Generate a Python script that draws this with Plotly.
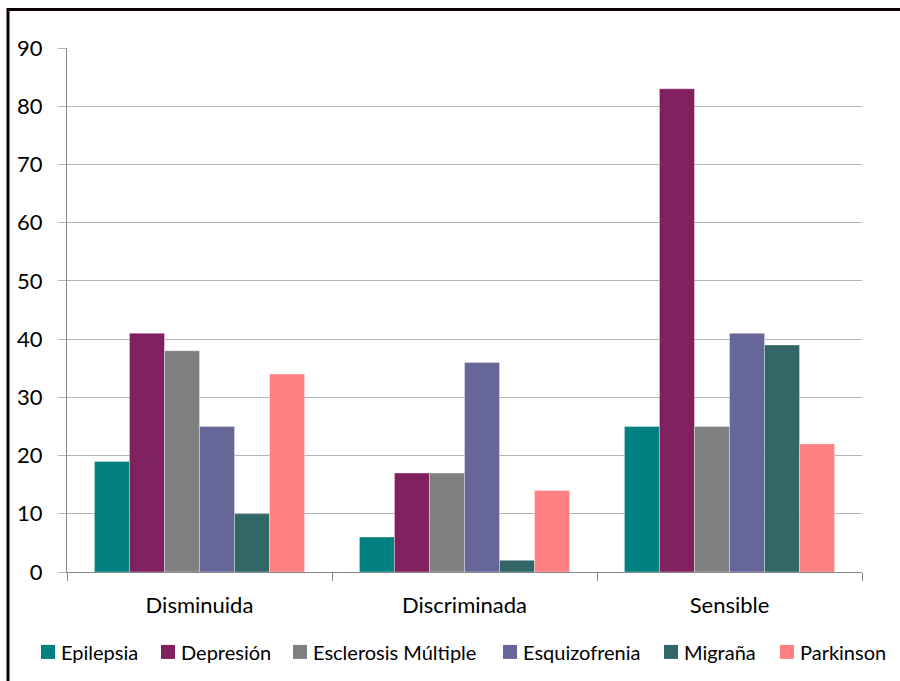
import plotly.graph_objects as go

categories = ["Disminuida", "Discriminada", "Sensible"]
series_names = ["Epilepsia", "Depresión", "Esclerosis Múltiple", "Esquizofrenia", "Migraña", "Parkinson"]
epilepsia = [19, 6, 25]
depresion = [41, 17, 83]
esclerosis = [38, 17, 25]
esquizofrenia = [25, 36, 41]
migrana = [10, 2, 39]
parkinson = [34, 14, 22]
y_ticks = [0, 10, 20, 30, 40, 50, 60, 70, 80, 90]

series_values = [epilepsia, depresion, esclerosis, esquizofrenia, migrana, parkinson]
colors = ["#008080", "#80205F", "#808080", "#666699", "#336666", "#FF8080"]

FONT = "Lato, 'Open Sans', sans-serif"

fig = go.Figure()
for name, vals, col in zip(series_names, series_values, colors):
    fig.add_trace(go.Bar(
        x=categories, y=vals, name=name,
        marker=dict(color=col, line=dict(color="rgba(255,255,255,0.35)", width=1)),
    ))

# plot area in pixels: x 67..862, y 47.5..572
L, R, T, B = 67, 862, 47.5, 572
W, H = 900, 681
pw, ph = R - L, B - T

def px_x(p):
    return (p - L) / pw

def px_y(p):
    return (B - p) / ph

# legend row below the chart: left edge of each colour key, in pixels
legend_key_left = [41, 161, 293, 503, 664, 780]
legend_y = 652
key_size = 14

shapes = [dict(
    type="rect", xref="paper", yref="paper",
    x0=px_x(8), x1=px_x(920), y0=px_y(720), y1=px_y(9),
    line=dict(color="#0a0005", width=3), fillcolor="rgba(0,0,0,0)", layer="above",
)]
annotations = []
for name, col, kx in zip(series_names, colors, legend_key_left):
    shapes.append(dict(
        type="rect", xref="paper", yref="paper",
        x0=px_x(kx), x1=px_x(kx + key_size),
        y0=px_y(legend_y + key_size / 2), y1=px_y(legend_y - key_size / 2),
        line=dict(width=0), fillcolor=col,
    ))
    annotations.append(dict(
        text=name, xref="paper", yref="paper",
        x=px_x(kx + key_size + 4), y=px_y(legend_y),
        xanchor="left", yanchor="middle", showarrow=False,
        font=dict(family=FONT, size=20, color="#000000"),
    ))

fig.update_layout(
    width=W, height=H,
    margin=dict(l=L, r=W - R, t=T, b=H - B),
    paper_bgcolor="white", plot_bgcolor="white",
    barmode="group", bargap=0.207, bargroupgap=0,
    font=dict(family=FONT, size=22, color="#000000"),
    showlegend=False,
    xaxis=dict(
        showgrid=False, showline=True, linecolor="#888888", linewidth=1,
        ticks="outside", ticklen=8, tickcolor="#888888",
        tickson="boundaries", ticklabelstandoff=14,
        tickfont=dict(family=FONT, size=22, color="#000000"),
    ),
    yaxis=dict(
        range=[0, 90], tickvals=y_ticks, showgrid=True, gridcolor="#b4b4b4", gridwidth=1,
        showline=True, linecolor="#888888", linewidth=1,
        ticks="outside", ticklen=8, tickcolor="#b4b4b4",
        ticklabelstandoff=11,
        tickfont=dict(family=FONT, size=22, color="#000000"),
        zeroline=False,
    ),
    shapes=shapes,
    annotations=annotations,
)

fig.write_html("out.html")
